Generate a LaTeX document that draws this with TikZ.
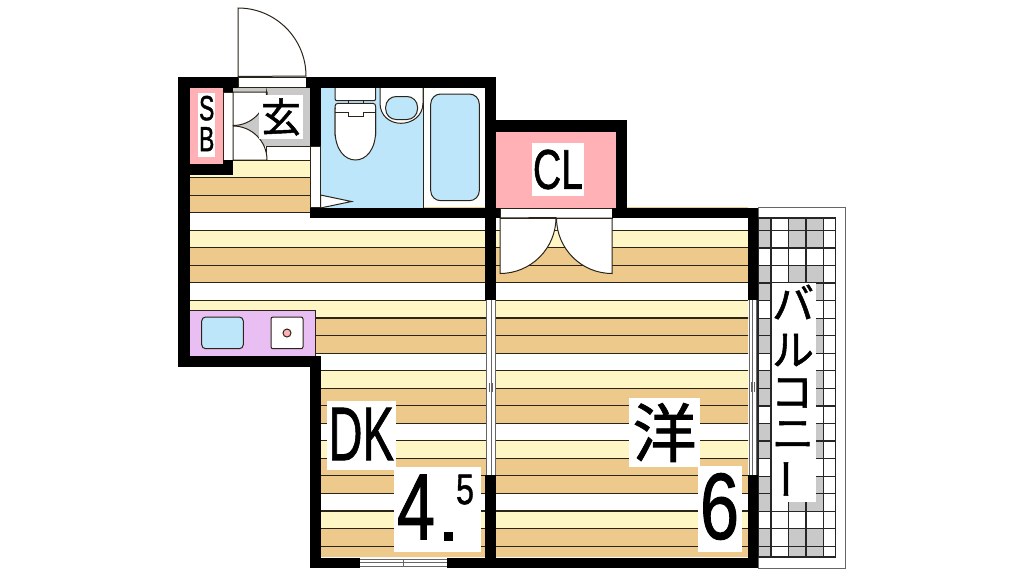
\documentclass[tikz,border=0pt]{standalone}
\usepackage{fontspec}
\setmainfont[FakeBold=1.2]{Liberation Sans}
\newfontfamily\jpfont[FakeBold=1.2]{Noto Sans CJK JP}
\usepackage{tikz}
\definecolor{woodA}{HTML}{FFF6C6}
\definecolor{woodB}{HTML}{EEC98C}
\definecolor{pinkroom}{HTML}{FFB1B6}
\definecolor{bathblue}{HTML}{BEE6FA}
\definecolor{kitchenpink}{HTML}{E9BEF3}
\definecolor{tilegray}{HTML}{C9C9C9}
\definecolor{linedark}{HTML}{2B2418}
\newcommand{\fsz}[1]{\fontsize{#1}{#1}\selectfont}
\newcommand{\squeezed}[2]{\scalebox{#1}[1]{#2}}
\tikzstyle{wall} = [fill=black]
\tikzstyle{fixture} = [draw=linedark, line width=1pt]
\tikzstyle{stripe} = [draw=linedark, line width=1.1pt]
\tikzstyle{tileline} = [draw=black!85, line width=1.2pt]
\tikzstyle{sash} = [draw=black!60, line width=0.9pt]
\tikzstyle{labelbox} = [fill=white, inner sep=0pt, outer sep=0pt]
\tikzstyle{word} = [inner sep=0pt, outer sep=0pt]
\begin{document}
\begin{tikzpicture}[x=1pt, y=-1pt]
    \useasboundingbox (0,0) rectangle (1024,576);
    \begin{scope}
        \clip (190,174) -- (233,174) -- (233,160) -- (310,160) -- (310,207) -- (748,207) -- (748,557) -- (321,557) -- (321,356) -- (190,356) -- cycle;
        \foreach \k in {0,...,5} {
            \fill [woodA] (170,160+70.2*\k) rectangle (760,177.55+70.2*\k);
            \fill [woodB] (170,177.55+70.2*\k) rectangle (760,212.65+70.2*\k);
        }
        \foreach \k in {0,...,22} {
            \draw [stripe] (170,160+17.55*\k) -- (760,160+17.55*\k);
        }
    \end{scope}
    \fill [pinkroom] (190,87) rectangle (223,164);
    \fill [pinkroom] (496,131) rectangle (616,208);
    \fill [tilegray] (233,87) rectangle (310,146);
    \fill [bathblue] (321,87) rectangle (423,208);
    \draw [fixture, fill=white] (266.7,146) rectangle (310,160);
    \draw [fixture] (423,87) -- (423,208);
    \draw [fixture, fill=white] (310,146) rectangle (320.5,207);
    \draw [fixture, fill=white] (320.5,195) -- (351.5,201.5) -- (320.5,208) -- cycle;
    \draw [fixture, fill=white] (223,92) rectangle (233,160);
    \draw [fixture, fill=white] (233,92) -- (267,92) -- (267,95) -- (266.5,92) arc [start angle=0, end angle=-90, radius=33.5pt] -- cycle;
    \draw [fixture, fill=white] (233,160) -- (233,126) arc [start angle=90, end angle=0, radius=34pt] -- cycle;
    \draw [fixture] (233,160) -- (310,160);
    \draw [fixture, fill=bathblue, rounded corners=10pt] (430.7,94) rectangle (479.3,200.7);
    \draw [fixture, fill=white, rounded corners=2pt] (335,87) -- (335,100.7) -- (375.7,100.7) -- (375.7,87);
    \draw [fixture] (348.5,100.7) -- (348.5,103.3) (363.5,100.7) -- (363.5,103.3);
    \draw [fixture, fill=white, rounded corners=3pt] (335,136) -- (335,103.3) -- (375.7,103.3) -- (375.7,136);
    \draw [fixture, fill=white] (335,130) .. controls (335,150) and (345,160) .. (355.4,160) .. controls (366,160) and (375.7,150) .. (375.7,130) -- (375.7,108) -- (335,108) -- cycle;
    \fill [white, rounded corners=3pt] (336,104.5) rectangle (375,112);
    \draw [fixture] (335,112.7) -- (348.5,112.7) -- (348.5,116) -- (363.5,116) -- (363.5,112.7) -- (375.7,112.7);
    \draw [fixture, fill=white] (380,87) -- (380,103) .. controls (380,116) and (390,123.3) .. (401,123.3) .. controls (412,123.3) and (423,116) .. (423,103) -- (423,87);
    \draw [fixture, fill=bathblue, rounded corners=10.5pt] (385.7,96.5) rectangle (417.5,119.5);
    \fill [kitchenpink] (190,310) rectangle (315.7,356);
    \draw [fixture] (190,310) -- (315.7,310) -- (315.7,356);
    \draw [fixture, fill=bathblue, rounded corners=4pt] (201.7,317) rectangle (243.3,348.7);
    \draw [fixture, fill=white, rounded corners=2pt] (271,317) rectangle (303,348.7);
    \draw [fixture, fill=pinkroom] (287,333) circle (4pt);
    \fill [white] (500,208) rectangle (612,218);
    \draw [fixture, fill=white] (500,218) -- (500,273.5) arc [start angle=-90, end angle=0, radius=56pt] -- cycle;
    \draw [fixture, fill=white] (612,218) -- (612,273.5) arc [start angle=-90, end angle=-180, radius=55.5pt] -- cycle;
    \draw [fixture] (500,208) rectangle (612,218);
    \draw [fixture, fill=white] (238,76.5) -- (238,8) arc [start angle=90, end angle=0, radius=68pt] -- cycle;
    \draw [fixture, fill=white] (238,77) rectangle (306,87);
    \fill [wall] (178,76.5) rectangle (238,87.5);
    \fill [wall] (306,76.5) rectangle (496,87.5);
    \fill [wall] (178,76.5) rectangle (190,367);
    \fill [wall] (178,355.5) rectangle (321,367);
    \fill [wall] (310,355.5) rectangle (321,568);
    \fill [wall] (310,557.5) rectangle (360,568);
    \fill [wall] (447,557.5) rectangle (758,568);
    \fill [wall] (485,76.5) rectangle (496,300);
    \fill [wall] (485,475) rectangle (496,568);
    \fill [wall] (485,120) rectangle (627,131.5);
    \fill [wall] (616,120) rectangle (627,218);
    \fill [wall] (612,207.5) rectangle (758,218);
    \fill [wall] (485,207.5) rectangle (500,218);
    \fill [wall] (310,207.5) rectangle (496,218);
    \fill [wall] (748,207.5) rectangle (758,300);
    \fill [wall] (748,475) rectangle (758,568);
    \fill [wall] (310,76.5) rectangle (321,146);
    \fill [wall] (190,163.5) rectangle (233,175);
    \fill [wall] (223,87) rectangle (233,92);
    \fill [wall] (223,160) rectangle (233,175);
    \fill [white] (486,300) rectangle (495.5,475);
    \draw [sash] (486.5,300) -- (486.5,475) (491,300) -- (491,475) (495,300) -- (495,475);
    \draw [sash] (489.5,383) -- (489.5,392) (492.5,383) -- (492.5,392);
    \fill [white] (748.5,300) rectangle (757.5,475);
    \draw [sash] (749,300) -- (749,475) (752.7,300) -- (752.7,475) (756.7,300) -- (756.7,475);
    \draw [sash] (751,382) -- (751,392) (754.5,382) -- (754.5,392);
    \fill [white] (360,558) rectangle (447,567);
    \draw [sash] (360,559) -- (447,559) (360,562.5) -- (447,562.5) (360,566.5) -- (447,566.5);
    \draw [sash] (403,559.5) -- (403,566);
    \draw [draw=black!60, line width=0.9pt] (758,207.5) rectangle (845.7,568);
    \fill [tilegray] (758,218) rectangle (771,557);
    \fill [tilegray] (788.5,218) rectangle (823.5,557);
    \foreach \k in {0,...,5} {
        \fill [white] (758,248+52.65*\k) rectangle (836,265.55+52.65*\k);
    }
    \foreach \k in {0,...,18} {
        \draw [tileline] (758,230.4+17.55*\k) -- (835.7,230.4+17.55*\k);
    }
    \foreach \x in {771,788.5,806,823.5} {
        \draw [tileline] (\x,218) -- (\x,557);
    }
    \draw [tileline] (758,218) rectangle (835.7,557);
    \fill [wall] (748,475) rectangle (758,568);
    \fill [wall] (748,207.5) rectangle (758,300);
    \node (genkan) [labelbox, minimum width=44pt, minimum height=44pt, font=\jpfont\fsz{40}] at (281,117) {玄};
    \node (sbbox) [labelbox, minimum width=17pt, minimum height=64pt] at (206.7,124.7) {};
    \node (sb) [word, align=center, font=\fontsize{28}{31}\selectfont] at (206.7,123.5) {\scalebox{.82}[1.25]{S}\\\scalebox{.82}[1.25]{B}};
    \node (closet) [labelbox, minimum width=52pt, minimum height=53pt, font=\fsz{56}] at (558,169.5) {\squeezed{.7}{CL}};
    \node (dkbox) [labelbox, minimum width=69pt, minimum height=69pt] at (361.2,435.5) {};
    \node (dk) [word, font=\fsz{76}] at (361.2,434) {\squeezed{.62}{DK}};
    \node (sizebox) [labelbox, minimum width=87pt, minimum height=85.5pt] at (437.5,509.5) {};
    \node (four) [word, font=\fsz{94}] at (416,507) {\squeezed{.73}{4}};
    \fill [black] (444,531.7) rectangle (453,540.7);
    \node (five) [word, font=\fsz{43}] at (465,489.5) {\squeezed{.75}{5}};
    \node (yo) [labelbox, minimum width=71pt, minimum height=69pt, font=\jpfont\fsz{64}] at (664.5,432.5) {洋};
    \node (sixbox) [labelbox, minimum width=43.7pt, minimum height=85.7pt] at (719.8,508.8) {};
    \node (six) [word, font=\fsz{94}] at (719.5,506.5) {\squeezed{.75}{6}};
    \node (balcony) [labelbox, minimum width=44.5pt, minimum height=218.7pt] at (794,392.3) {};
    \node (ba) [word, font=\jpfont\fsz{42}] at (793,302) {バ};
    \node (ru) [word, font=\jpfont\fsz{42}] at (793,350) {ル};
    \node (ko) [word, font=\jpfont\fsz{42}] at (792,393) {コ};
    \node (ni) [word, font=\jpfont\fsz{42}] at (793,435) {ニ};
    \node (bar) [word, font=\jpfont\fsz{42}] at (793,479) {\rotatebox{90}{ー}};
\end{tikzpicture}
\end{document}
